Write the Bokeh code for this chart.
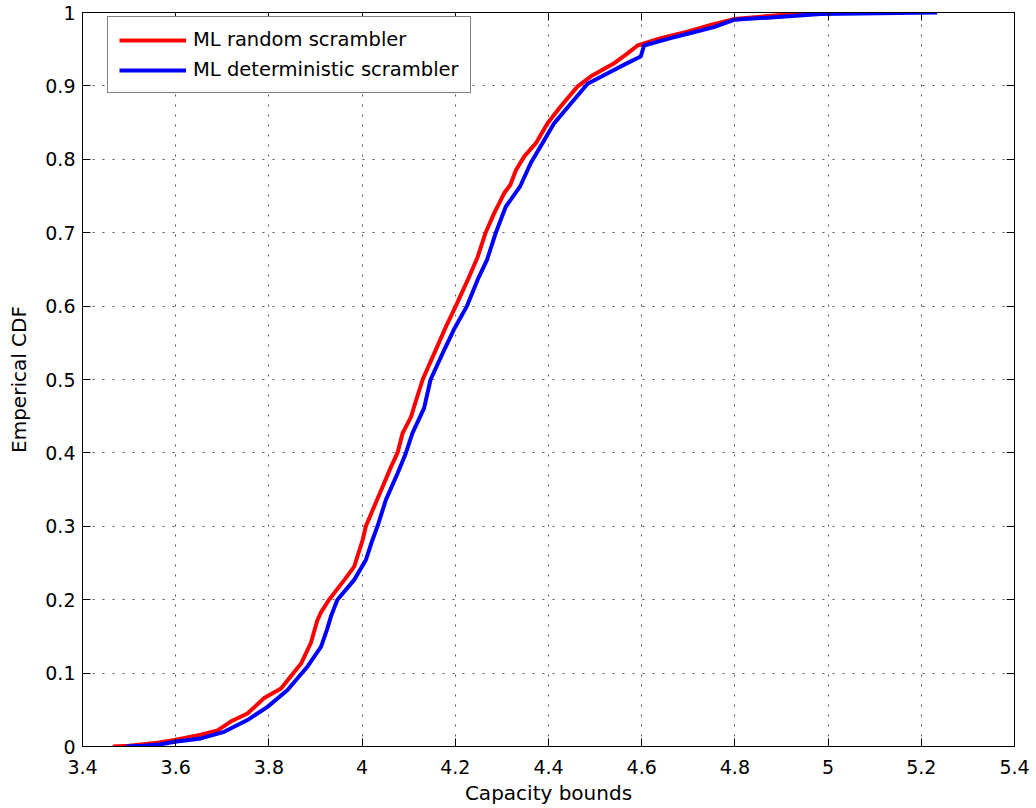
from bokeh.plotting import figure
from bokeh.models import Legend, LegendItem, LinearAxis, FixedTicker, Range1d
from bokeh.embed import file_html
from bokeh.resources import INLINE

# ---- data ----
random_x = [3.465, 3.50, 3.561, 3.598, 3.654, 3.69, 3.718, 3.754, 3.79, 3.826,
            3.869, 3.89, 3.904, 3.912, 3.929, 3.962, 3.983, 4.001, 4.008, 4.026,
            4.044, 4.062, 4.076, 4.087, 4.105, 4.114, 4.13, 4.155, 4.18, 4.201,
            4.227, 4.248, 4.265, 4.283, 4.305, 4.318, 4.33, 4.348, 4.373, 4.398,
            4.426, 4.462, 4.491, 4.541, 4.569, 4.591, 4.641, 4.698, 4.748, 4.798,
            4.905, 5.0]
random_cdf = [0.0, 0.001, 0.005, 0.009, 0.016, 0.022, 0.034, 0.045, 0.066, 0.079,
              0.113, 0.141, 0.172, 0.183, 0.2, 0.227, 0.245, 0.281, 0.3, 0.327,
              0.354, 0.381, 0.4, 0.427, 0.449, 0.468, 0.5, 0.536, 0.572, 0.6,
              0.636, 0.667, 0.7, 0.726, 0.754, 0.765, 0.785, 0.804, 0.822, 0.849,
              0.872, 0.899, 0.913, 0.931, 0.944, 0.955, 0.965, 0.974, 0.983, 0.991,
              0.997, 1.0]

determ_x = [3.493, 3.53, 3.568, 3.598, 3.654, 3.704, 3.754, 3.797, 3.84, 3.883,
            3.912, 3.925, 3.933, 3.947, 3.983, 4.008, 4.022, 4.033, 4.051, 4.076,
            4.094, 4.108, 4.133, 4.147, 4.173, 4.197, 4.225, 4.248, 4.268, 4.287,
            4.308, 4.339, 4.362, 4.387, 4.412, 4.448, 4.484, 4.526, 4.569, 4.598,
            4.605, 4.662, 4.705, 4.755, 4.798, 4.87, 4.984, 5.234]
determ_cdf = [0.0, 0.001, 0.003, 0.0065, 0.011, 0.02, 0.036, 0.054, 0.077, 0.109,
              0.136, 0.16, 0.177, 0.2, 0.227, 0.254, 0.281, 0.3, 0.336, 0.372,
              0.4, 0.427, 0.461, 0.5, 0.536, 0.568, 0.6, 0.636, 0.663, 0.7,
              0.735, 0.763, 0.795, 0.822, 0.849, 0.876, 0.903, 0.917, 0.931, 0.940,
              0.955, 0.965, 0.972, 0.98, 0.99, 0.993, 0.998, 1.0]

series_labels = ["ML random scrambler", "ML deterministic scrambler"]

x_ticks = [3.4, 3.6, 3.8, 4.0, 4.2, 4.4, 4.6, 4.8, 5.0, 5.2, 5.4]
x_tick_labels = ["3.4", "3.6", "3.8", "4", "4.2", "4.4", "4.6", "4.8", "5", "5.2", "5.4"]
y_ticks = [0.0, 0.1, 0.2, 0.3, 0.4, 0.5, 0.6, 0.7, 0.8, 0.9, 1.0]
y_tick_labels = ["0", "0.1", "0.2", "0.3", "0.4", "0.5", "0.6", "0.7", "0.8", "0.9", "1"]

FONT = "DejaVu Sans"

p = figure(frame_width=932, frame_height=734,
           min_border_left=82, min_border_right=22, min_border_top=12, min_border_bottom=62,
           x_range=Range1d(3.4, 5.4), y_range=Range1d(0, 1),
           output_backend="svg", toolbar_location=None,
           background_fill_color="white", border_fill_color="white")

xt = FixedTicker(ticks=x_ticks)
yt = FixedTicker(ticks=y_ticks)

for ax in (p.xaxis[0], p.yaxis[0]):
    ax.major_tick_in = 8
    ax.major_tick_out = 0
    ax.minor_tick_in = 0
    ax.minor_tick_out = 0
    ax.axis_line_color = "black"
    ax.major_tick_line_color = "black"
    ax.major_label_text_font = FONT
    ax.major_label_text_font_size = "19px"
    ax.major_label_text_color = "black"
    ax.axis_label_text_font = FONT
    ax.axis_label_text_font_size = "20px"
    ax.axis_label_text_font_style = "normal"
    ax.axis_label_text_color = "black"

p.xaxis[0].ticker = xt
p.xaxis[0].major_label_overrides = dict(zip(x_ticks, x_tick_labels))
p.xaxis[0].major_label_standoff = 13
p.xaxis[0].axis_label = "Capacity bounds"
p.xaxis[0].axis_label_standoff = 4

p.yaxis[0].ticker = yt
p.yaxis[0].major_label_overrides = dict(zip(y_ticks, y_tick_labels))
p.yaxis[0].major_label_standoff = 7
p.yaxis[0].axis_label = "Emperical CDF"
p.yaxis[0].axis_label_standoff = 11

# mirrored tick-only axes on the top and right (MATLAB "box on" look)
top = LinearAxis(ticker=xt, major_label_text_color=None, major_label_text_font_size="1px",
                 major_label_standoff=0,
                 major_tick_in=8, major_tick_out=0, minor_tick_in=0, minor_tick_out=0,
                 axis_line_color="black", major_tick_line_color="black")
right = LinearAxis(ticker=yt, major_label_text_color=None, major_label_text_font_size="1px",
                   major_label_standoff=0,
                   major_tick_in=8, major_tick_out=0, minor_tick_in=0, minor_tick_out=0,
                   axis_line_color="black", major_tick_line_color="black")
p.add_layout(top, "above")
p.add_layout(right, "right")

p.xgrid.ticker = xt
p.ygrid.ticker = yt
for g in (p.xgrid[0], p.ygrid[0]):
    g.grid_line_color = "#555555"
    g.grid_line_width = 1
    g.grid_line_dash = "2 8"

p.outline_line_color = "black"
p.outline_line_width = 1

r1 = p.line(random_x, random_cdf, line_color="#ff0000", line_width=4, line_join="round")
r2 = p.line(determ_x, determ_cdf, line_color="#0000ff", line_width=4, line_join="round")

legend = Legend(items=[LegendItem(label=series_labels[0], renderers=[r1]),
                       LegendItem(label=series_labels[1], renderers=[r2])],
                location=(25, 653),
                label_text_font=FONT, label_text_font_size="19.5px",
                label_text_color="black",
                glyph_width=67, glyph_height=20, label_standoff=7,
                padding=11, spacing=7, margin=0,
                border_line_color="black", border_line_width=1,
                background_fill_color="white", background_fill_alpha=1)
p.add_layout(legend)

open("out.html", "w").write(file_html(p, INLINE))
